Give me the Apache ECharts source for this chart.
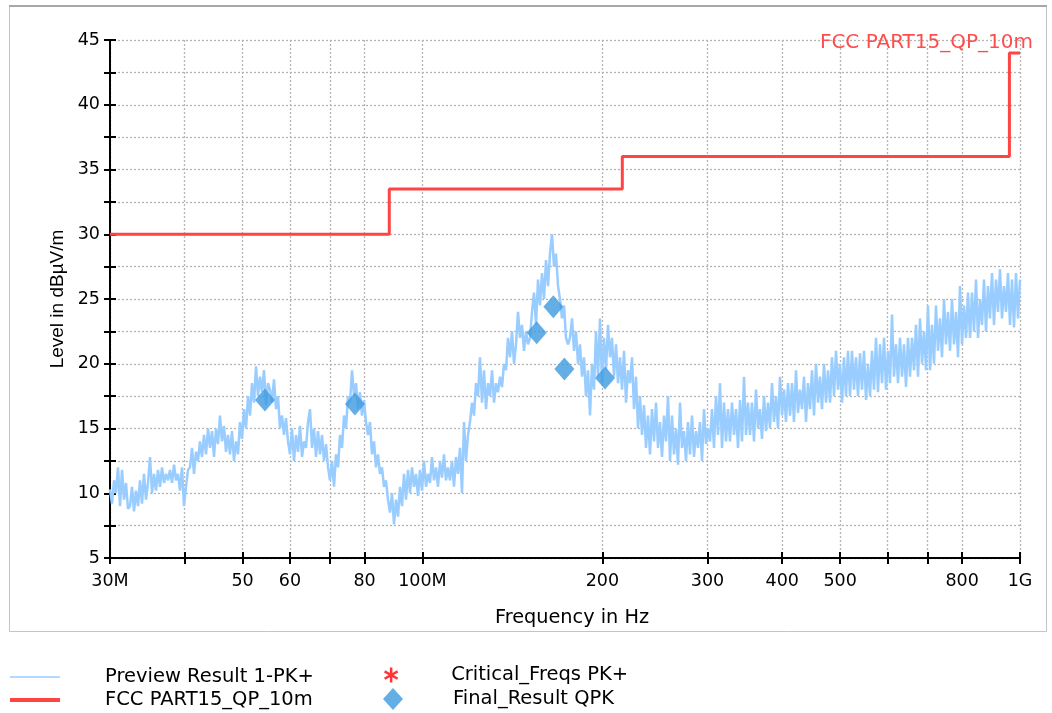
<!DOCTYPE html>
<html>
<head>
<meta charset="utf-8">
<script src="https://cdn.jsdelivr.net/npm/echarts@6/dist/echarts.min.js"></script>
<style>
html,body{margin:0;padding:0;background:#fff;}
#chart{width:1052px;height:713px;}
</style>
</head>
<body>
<div id="chart"></div>
<script>
// ---- data ----
const sweepStartMHz = 30;
const sweepStopMHz = 1000;
// Preview Result 1-PK+ levels (dBµV/m), one per sweep point
const previewLevels = [
10.3, 9.2, 11.0, 10.0, 12.0, 9.0, 11.8, 9.5, 10.8, 8.8,
9.0, 10.5, 8.6, 10.2, 9.0, 11.0, 9.2, 11.5, 9.5, 10.8,
12.8, 10.0, 11.5, 10.2, 11.8, 10.5, 12.0, 10.8, 11.5, 11.0,
11.8, 10.8, 12.2, 11.0, 11.5, 10.2, 12.0, 9.0, 10.5, 11.8,
12.0, 13.5, 11.5, 13.2, 12.5, 14.0, 12.8, 14.5, 13.0, 15.0,
13.5, 14.8, 12.8, 15.0, 13.8, 16.0, 14.0, 15.2, 13.2, 14.5,
13.0, 14.8, 12.5, 14.0, 13.0, 15.5, 14.2, 16.5, 15.0, 17.5,
16.0, 18.5, 17.0, 19.8, 17.5, 19.0, 17.8, 19.5, 16.8, 18.5,
18.0, 17.0, 18.8, 16.5, 17.5, 15.0, 16.0, 14.5, 15.8, 14.0,
13.0, 15.0, 12.5, 14.5, 13.2, 15.2, 12.8, 14.0, 13.5, 15.5,
16.5, 13.5, 15.0, 12.8, 14.8, 13.0, 14.5, 12.5, 13.8, 12.0,
11.0, 12.5, 10.5, 13.0, 12.0, 14.5, 13.5, 16.0, 15.0, 17.5,
17.0, 19.5, 17.5, 18.5, 16.5, 17.8, 16.0, 17.2, 15.5, 14.5,
15.5, 13.0, 14.0, 12.0, 13.0, 11.5, 12.0, 10.5, 11.0, 9.5,
8.5, 10.0, 7.6, 9.5, 8.2, 10.5, 9.0, 11.5, 9.5, 11.8,
10.0, 12.0, 10.5, 11.5, 9.8, 11.8, 10.2, 12.5, 10.5, 11.5,
10.8, 12.8, 11.0, 12.0, 10.5, 12.5, 11.2, 13.0, 11.0, 12.0,
11.0, 12.5, 10.5, 12.8, 11.5, 13.5, 10.0, 15.5, 12.5, 14.5,
15.5, 17.0, 16.0, 18.5, 17.5, 20.5, 17.0, 19.5, 16.5, 18.5,
17.5, 19.5, 17.0, 18.5, 17.8, 19.0, 18.2, 20.0, 19.5, 22.0,
20.5, 22.5, 20.0, 21.5, 24.0, 22.0, 23.0, 21.0, 22.5, 21.5,
22.0, 24.0, 25.5, 23.0, 26.5, 24.5, 27.0, 25.0, 28.0, 26.0,
28.5, 30.0, 27.5, 28.5, 26.0, 25.0, 23.5, 24.5, 22.0, 21.5,
22.0, 23.5, 21.0, 22.5, 20.0, 21.5, 19.0, 20.5, 17.5, 19.5,
16.0, 20.0, 18.0, 22.5, 19.0, 23.5, 18.5, 22.0, 19.5, 23.0,
20.5, 22.0, 19.0, 21.5, 18.5, 20.5, 18.0, 21.0, 17.0, 19.5,
18.5, 20.5, 16.5, 19.0, 15.0, 17.5, 14.5, 16.8, 13.5, 16.0,
13.0, 16.5, 14.0, 17.0, 13.5, 15.5, 12.8, 16.0, 14.0, 17.5,
12.5, 16.0, 13.0, 15.0, 12.2, 17.0, 13.5, 14.8, 12.5, 15.5,
13.0, 16.0, 12.8, 14.8, 13.5, 15.5, 12.5, 16.5, 13.8, 15.0,
14.0, 16.5, 13.5, 17.5, 14.5, 18.5, 13.5, 17.0, 14.0, 16.5,
14.0, 17.0, 14.5, 16.5, 13.5, 17.2, 14.0, 19.0, 14.5, 17.0,
14.5, 17.0, 14.0, 18.0, 15.0, 16.5, 14.2, 17.5, 14.8, 17.0,
15.0, 18.5, 15.5, 17.5, 15.0, 19.0, 16.0, 18.0, 15.5, 18.5,
16.0, 18.5, 15.5, 19.5, 16.2, 18.0, 16.5, 19.0, 15.5, 18.5,
16.5, 19.5, 16.0, 20.0, 17.0, 19.0, 16.5, 20.0, 17.0, 19.5,
17.0, 20.5, 17.5, 21.0, 18.0, 20.0, 17.0, 20.5, 17.5, 21.0,
17.5, 21.0, 18.0, 20.5, 17.5, 20.8, 18.0, 21.0, 17.2, 20.0,
17.5, 21.0, 18.0, 22.0, 17.8, 21.5, 18.5, 22.0, 18.0, 21.0,
18.5, 23.8, 19.0, 21.5, 18.5, 22.0, 19.0, 21.5, 18.2, 22.0,
19.0, 22.0, 19.5, 23.0, 19.0, 23.5, 20.0, 22.5, 19.5, 24.5,
19.5, 23.0, 20.0, 24.5, 21.0, 23.5, 20.5, 25.0, 21.5, 24.0,
21.0, 25.0, 21.5, 24.0, 20.5, 26.0, 21.5, 24.5, 22.0, 25.5,
22.0, 25.5, 22.5, 26.5, 22.0, 25.0, 23.0, 26.5, 22.5, 26.0,
23.5, 27.0, 23.0, 26.5, 24.0, 27.3, 23.5, 26.0, 24.0, 27.0,
23.0, 26.5, 22.8, 27.0, 23.5, 26.5
];

// FCC PART15_QP_10m limit (step line)
const limitFreqMHz = [30, 88, 88, 216, 216, 960, 960, 1000];
const limitLevel   = [30, 30, 33.5, 33.5, 36, 36, 44, 44];

// Final_Result QPK
const finalFreqMHz = [54.5, 77.1, 155.3, 165.6, 172.8, 202.1];
const finalLevel   = [17.2, 16.9, 22.4, 24.4, 19.6, 18.9];

// Critical_Freqs PK+ (none shown)
const criticalFreqMHz = [];
const criticalLevel = [];

// axis ticks
const xTickValues  = [30, 40, 50, 60, 70, 80, 100, 200, 300, 400, 500, 600, 700, 800, 1000];
const xLabelValues = [30, 50, 60, 80, 100, 200, 300, 400, 500, 800, 1000];
const yMin = 5, yMax = 45, yStep = 5;

// ---- build ----
const nPts = previewLevels.length;
const previewData = previewLevels.map((v, i) =>
  [sweepStartMHz * Math.pow(sweepStopMHz / sweepStartMHz, i / (nPts - 1)), v]);
const limitData = limitFreqMHz.map((f, i) => [f, limitLevel[i]]);
const finalData = finalFreqMHz.map((f, i) => [f, finalLevel[i]]);
const criticalData = criticalFreqMHz.map((f, i) => [f, criticalLevel[i]]);

const FONT_A = '"Liberation Sans", Arial, sans-serif';
const FONT_W = '"DejaVu Sans", "Liberation Sans", sans-serif';
const TXT = 19.5;
const TICK = 17.5;
const gridLine = {show: true, lineStyle: {color: '#b4b4b4', width: 1.3, type: [2, 2]}};

function xFmt(v) {
  const r = Math.round(v);
  if (r === 1000) return '1G';
  if (r === 30 || r === 100) return r + 'M';
  return String(r);
}

const chart = echarts.init(document.getElementById('chart'), null, {renderer: 'canvas'});
const asterisk = 'path://M5,0L7,0L7,4.3L10.7,2.2L11.7,3.9L8,6L11.7,8.1L10.7,9.8L7,7.7L7,12L5,12L5,7.7L1.3,9.8L0.3,8.1L4,6L0.3,3.9L1.3,2.2L5,4.3Z';
const diamond = 'path://M10,0L20,11L10,22L0,11Z';
const legendText = {fontSize: TXT, lineHeight: 20, color: '#000', fontFamily: FONT_W};

chart.setOption({
  animation: false,
  backgroundColor: '#fff',
  textStyle: {fontFamily: FONT_W},
  title: {
    text: 'FCC PART15_QP_10m', right: 14, top: 28,
    textStyle: {color: '#ff4d4d', fontWeight: 'normal', fontSize: 20, fontFamily: FONT_W}
  },
  graphic: [
    {type: 'rect', shape: {x: 9.5, y: 6.5, width: 1037, height: 625}, style: {fill: 'none', stroke: '#c4c4c4', lineWidth: 1}, silent: true},
    {type: 'line', shape: {x1: 9, y1: 6, x2: 1047, y2: 6}, style: {stroke: '#a8a8a8', lineWidth: 2}, silent: true}
  ],
  grid: {left: 110, right: 32, top: 40, bottom: 155, containLabel: false},
  legend: [
    {
      orient: 'vertical', left: 8, top: 667, padding: 0, itemWidth: 50, itemHeight: 20, itemGap: 3,
      selectedMode: false,
      itemStyle: {opacity: 0},
      data: [
        {name: 'Preview Result 1-PK+', lineStyle: {width: 1.5}},
        {name: 'FCC PART15_QP_10m', lineStyle: {width: 4}}
      ],
      textStyle: Object.assign({padding: [0, 0, 0, 40]}, legendText)
    },
    {
      orient: 'vertical', left: 384, top: 665, padding: 0, itemWidth: 50, itemHeight: 15, itemGap: 0,
      selectedMode: false,
      data: ['Critical_Freqs PK+'],
      textStyle: Object.assign({padding: [0, 0, 0, 30]}, legendText)
    },
    {
      orient: 'vertical', left: 383, top: 688, padding: 0, itemWidth: 50, itemHeight: 22, itemGap: 0,
      selectedMode: false,
      data: ['Final_Result QPK'],
      textStyle: Object.assign({padding: [0, 0, 0, 30]}, legendText)
    }
  ],
  xAxis: [
    {
      type: 'log', logBase: 10, min: sweepStartMHz, max: sweepStopMHz, position: 'bottom',
      name: 'Frequency in Hz', nameLocation: 'middle', nameGap: 50,
      nameTextStyle: {fontSize: 19.3, color: '#000', fontFamily: FONT_W, padding: [0, 0, 0, 14]},
      axisLine: {show: true, lineStyle: {color: '#000', width: 2}},
      axisTick: {show: true, length: 6, lineStyle: {color: '#000', width: 2}, customValues: xTickValues},
      axisLabel: {show: true, margin: 14, fontSize: TICK, color: '#000', fontFamily: FONT_W, customValues: xLabelValues, formatter: xFmt},
      splitLine: gridLine,
      minorTick: {show: false}, minorSplitLine: {show: false}
    },
    {
      type: 'log', logBase: 10, min: sweepStartMHz, max: sweepStopMHz, position: 'bottom',
      axisLine: {show: false},
      axisTick: {show: true, inside: true, length: 6, lineStyle: {color: '#000', width: 2}, customValues: xTickValues},
      axisLabel: {show: false},
      splitLine: {show: false}
    }
  ],
  yAxis: [
    {
      type: 'value', min: yMin, max: yMax, interval: yStep, position: 'left',
      name: 'Level in dBµV/m', nameLocation: 'middle', nameGap: 42, nameRotate: 90,
      nameTextStyle: {fontSize: 19, color: '#000', fontFamily: FONT_A},
      axisLine: {show: true, lineStyle: {color: '#000', width: 2}},
      axisTick: {show: true, length: 6, lineStyle: {color: '#000', width: 2}},
      minorTick: {show: true, splitNumber: 2, length: 6, lineStyle: {color: '#000', width: 2}},
      axisLabel: {margin: 10, fontSize: TICK, color: '#000', fontFamily: FONT_W},
      splitLine: gridLine,
      minorSplitLine: gridLine
    },
    {
      type: 'value', min: yMin, max: yMax, interval: yStep, position: 'left',
      axisLine: {show: false},
      axisTick: {show: true, inside: true, length: 6, lineStyle: {color: '#000', width: 2}},
      minorTick: {show: true, splitNumber: 2, length: 6, lineStyle: {color: '#000', width: 2}},
      axisLabel: {show: false},
      splitLine: {show: false}
    }
  ],
  series: [
    {
      name: 'Preview Result 1-PK+', type: 'line', data: previewData,
      xAxisIndex: 0, yAxisIndex: 0,
      symbol: 'none', sampling: null, color: '#99ccff',
      lineStyle: {color: '#99ccff', width: 2.5}, z: 2
    },
    {
      name: 'FCC PART15_QP_10m', type: 'line', data: limitData,
      symbol: 'none', color: '#ff4444',
      lineStyle: {color: '#ff4444', width: 3}, z: 3
    },
    {
      name: 'Critical_Freqs PK+', type: 'scatter', data: criticalData,
      symbol: asterisk, symbolSize: 14, symbolKeepAspect: true,
      itemStyle: {color: '#ff0000'}, z: 4
    },
    {
      name: 'Final_Result QPK', type: 'scatter', data: finalData,
      symbol: diamond, symbolSize: [22, 23], symbolKeepAspect: true,
      itemStyle: {color: '#3d9ae0'}, z: 5
    }
  ]
});
</script>
</body>
</html>
